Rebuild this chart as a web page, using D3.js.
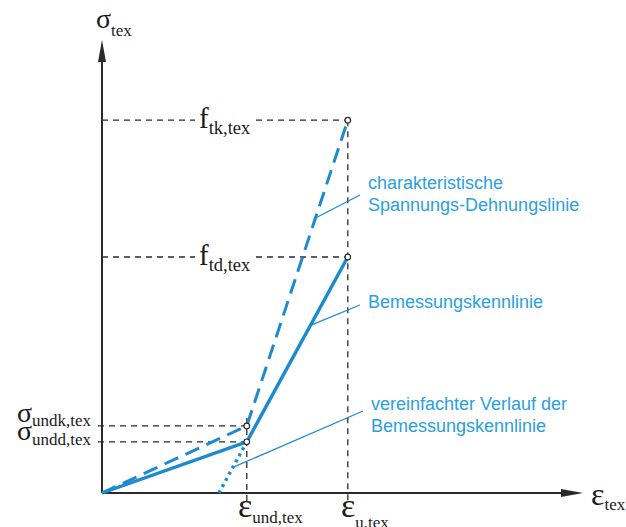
<!DOCTYPE html>
<html>
<head>
<meta charset="utf-8">
<script src="https://cdn.jsdelivr.net/npm/d3@7"></script>
<style>
  body { margin: 0; background: #fff; }
</style>
</head>
<body>
<svg id="chart" width="626" height="527"></svg>
<script>
// values in relative units (axis length = 100)
var epsUnd = 30.1, epsU = 51.1, epsDot = 24.3;
var sigUndk = 14.8, sigUndd = 11.3, ftk = 82.3, ftd = 52.1;

var charLine = [[0, 0], [epsUnd, sigUndk], [epsU, ftk]];
var designLine = [[0, 0], [epsUnd, sigUndd], [epsU, ftd]];
var simpleLine = [[epsDot, 0], [epsUnd, sigUndd]];
var markers = [[epsUnd, sigUndk], [epsUnd, sigUndd], [epsU, ftk], [epsU, ftd]];
var notes = [
    ["charakteristische", "Spannungs-Dehnungslinie"],
    ["Bemessungskennlinie"],
    ["vereinfachter Verlauf der", "Bemessungskennlinie"]
];

var svg1 = d3.select("#chart");
var x = d3.scaleLinear().domain([0, 100]).range([102, 583]);
var y = d3.scaleLinear().domain([0, 100]).range([493, 40]);
var line = d3.line().x(function (d) { return x(d[0]); }).y(function (d) { return y(d[1]); });

var blue = "#1c8ad0", blueText = "#2aa0df", ink = "#2a2a2a";

// point at fraction t along a segment
function along(a, b, t) {
    return [x(a[0]) + (x(b[0]) - x(a[0])) * t, y(a[1]) + (y(b[1]) - y(a[1])) * t];
}

// helper dashed lines
var guides = svg1.append("g")
    .attr("stroke", ink).attr("stroke-width", 1.3)
    .attr("stroke-dasharray", "6,5").attr("fill", "none");
[sigUndk, sigUndd].forEach(function (s) {
    guides.append("line").attr("x1", x(0) - 4).attr("x2", x(epsUnd))
        .attr("y1", y(s)).attr("y2", y(s));
});
[ftk, ftd].forEach(function (s) {
    guides.append("line").attr("x1", x(0)).attr("x2", x(epsU))
        .attr("y1", y(s)).attr("y2", y(s));
});
guides.append("line").attr("x1", x(epsUnd)).attr("x2", x(epsUnd))
    .attr("y1", y(sigUndk) - 8).attr("y2", y(0) + 8);
guides.append("line").attr("x1", x(epsU)).attr("x2", x(epsU))
    .attr("y1", y(ftk)).attr("y2", y(0) + 8);

// axes with arrows
svg1.append("line").attr("x1", x(0)).attr("x2", x(100) - 10)
    .attr("y1", y(0)).attr("y2", y(0)).attr("stroke", ink).attr("stroke-width", 2);
svg1.append("line").attr("x1", x(0)).attr("x2", x(0))
    .attr("y1", y(0)).attr("y2", y(100) + 10).attr("stroke", ink).attr("stroke-width", 2);
svg1.append("path")
    .attr("d", "M" + x(100) + "," + y(0) + "L" + (x(100) - 22) + "," + (y(0) - 4) + "L" + (x(100) - 22) + "," + (y(0) + 4) + "Z")
    .attr("fill", ink);
svg1.append("path")
    .attr("d", "M" + x(0) + "," + y(100) + "L" + (x(0) - 4) + "," + (y(100) + 22) + "L" + (x(0) + 4) + "," + (y(100) + 22) + "Z")
    .attr("fill", ink);

// curves
svg1.append("path").attr("d", line(charLine)).attr("fill", "none")
    .attr("stroke", blue).attr("stroke-width", 3).attr("stroke-dasharray", "15,8");
svg1.append("path").attr("d", line(designLine)).attr("fill", "none")
    .attr("stroke", blue).attr("stroke-width", 3.4);
svg1.append("path").attr("d", line(simpleLine)).attr("fill", "none")
    .attr("stroke", blue).attr("stroke-width", 3.4).attr("stroke-dasharray", "3,4");

svg1.append("g").selectAll("circle")
    .data(markers).enter().append("circle")
    .attr("cx", function (d) { return x(d[0]); })
    .attr("cy", function (d) { return y(d[1]); })
    .attr("r", 2.8).attr("fill", "#fff").attr("stroke", ink).attr("stroke-width", 1.2);

// leader lines + notes
var leaders = [
    { from: [360, 195], to: along(charLine[1], charLine[2], 0.68), tx: 368, ty: 189 },
    { from: [360, 305], to: along(designLine[1], designLine[2], 0.63), tx: 368, ty: 308 },
    { from: [363, 411], to: along(simpleLine[0], simpleLine[1], 0.5), tx: 371, ty: 410 }
];
leaders.forEach(function (l, i) {
    svg1.append("line").attr("x1", l.from[0]).attr("y1", l.from[1])
        .attr("x2", l.to[0]).attr("y2", l.to[1])
        .attr("stroke", blue).attr("stroke-width", 1.2);
    var t = svg1.append("text").attr("x", l.tx).attr("y", l.ty)
        .attr("font-family", "Liberation Sans, Arial, sans-serif")
        .attr("font-size", 18).attr("fill", blueText);
    notes[i].forEach(function (s, j) {
        t.append("tspan").attr("x", l.tx).attr("dy", j == 0 ? 0 : 22).text(s);
    });
});

// math labels
function mathLabel(px, py, main, sub, anchor, subDy, mainSize, subSize, bg) {
    var g = svg1.append("g");
    var t = g.append("text").attr("x", px).attr("y", py)
        .attr("font-family", "Liberation Serif, Times New Roman, serif")
        .attr("text-anchor", anchor || "start").attr("fill", "#1a1a1a");
    t.append("tspan").attr("font-size", mainSize).text(main);
    t.append("tspan").attr("font-size", subSize).attr("dy", subDy).text(sub);
    if (bg) {
        var b = t.node().getBBox();
        g.insert("rect", "text").attr("x", b.x - 4).attr("y", b.y + 4).attr("width", b.width + 6)
            .attr("height", b.height - 6).attr("fill", "#fff");
    }
}
mathLabel(96, 28, "σ", "tex", "start", 8, 28, 17);
mathLabel(199, 128, "f", "tk,tex", "start", 6, 29, 18.5, true);
mathLabel(199, 265, "f", "td,tex", "start", 6, 29, 18.5, true);
mathLabel(91, 422, "σ", "undk,tex", "end", 4, 28, 17);
mathLabel(91, 440, "σ", "undd,tex", "end", 5, 28, 17);
mathLabel(238, 517, "ε", "und,tex", "start", 6, 34, 17);
mathLabel(341, 517, "ε", "u,tex", "start", 11, 34, 17);
mathLabel(591, 505, "ε", "tex", "start", 5, 32, 17);
</script>
</body>
</html>
